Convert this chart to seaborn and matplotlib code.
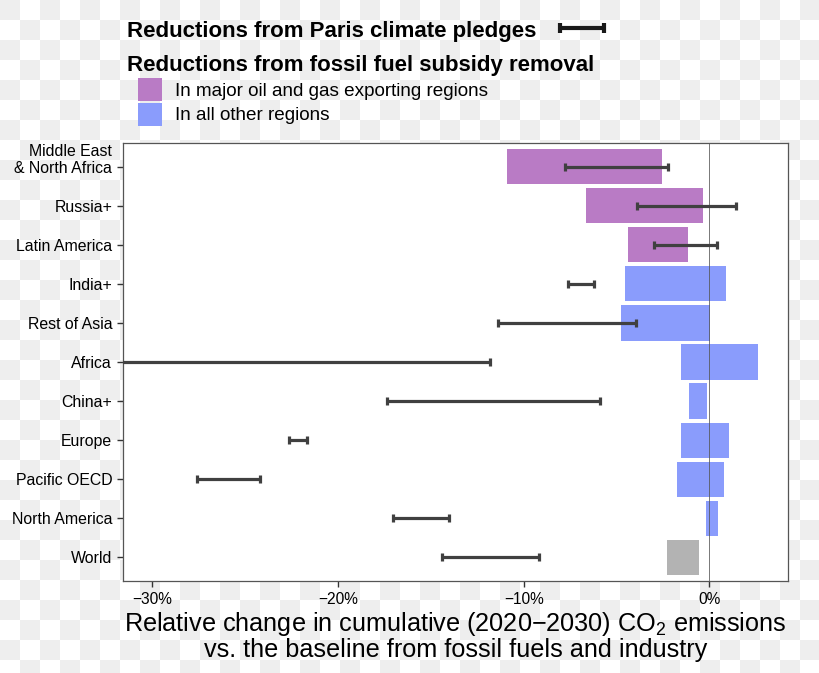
import numpy as np
import matplotlib
matplotlib.use("Agg")
import matplotlib.pyplot as plt
from matplotlib.patches import Rectangle
from matplotlib.lines import Line2D
from matplotlib.transforms import ScaledTranslation
import seaborn as sns

# ---------------- data ----------------
regions = ["Middle East\n& North Africa", "Russia+", "Latin America", "India+",
           "Rest of Asia", "Africa", "China+", "Europe", "Pacific OECD",
           "North America", "World"]
group = ["exporter", "exporter", "exporter", "other", "other", "other",
         "other", "other", "other", "other", "world"]
# fossil fuel subsidy removal: range (start, end) in %
subsidy_lo = [-10.9, -6.63, -4.38, -4.52, -4.76, -1.51, -1.11, -1.54, -1.72, -0.16, -2.28]
subsidy_hi = [-2.55, -0.32, -1.15, 0.88, 0.02, 2.62, -0.14, 1.08, 0.79, 0.48, -0.54]
# Paris pledges: range (low, high) in %
paris_lo = [-7.77, -3.91, -2.98, -7.63, -11.4, -33.0, -17.34, -22.66, -27.59, -17.03, -14.39]
paris_hi = [-2.24, 1.45, 0.41, -6.23, -3.97, -11.83, -5.87, -21.66, -24.22, -14.03, -9.19]
xticks = [-30, -20, -10, 0]
xticklabels = ["\u221230%", "\u221220%", "\u221210%", "0%"]

colors = {"exporter": "#b97bc5", "other": "#8a9cfc", "world": "#b3b3b3"}

# ---------------- style ----------------
sns.set_theme(style="ticks")
plt.rcParams["font.family"] = ["Liberation Sans", "DejaVu Sans"]
plt.rcParams["mathtext.fontset"] = "custom"
plt.rcParams["mathtext.rm"] = "Liberation Sans"
plt.rcParams["mathtext.it"] = "Liberation Sans"

W, H = 820, 673
fig = plt.figure(figsize=(W / 100, H / 100), dpi=100)
fig.patch.set_facecolor("white")

# checkerboard background
bg = fig.add_axes([0, 0, 1, 1], zorder=-10)
nx, ny = 41, 34
board = np.fromfunction(lambda j, i: ((i + j) % 2 == 0).astype(float), (ny, nx))
bg.imshow(board, cmap=matplotlib.colors.ListedColormap(["#ffffff", "#eeeeee"]),
          extent=(0, nx * 20, ny * 20, 0), interpolation="nearest", aspect="auto")
bg.set_xlim(0, W)
bg.set_ylim(H, 0)
bg.axis("off")

def fx(px):
    return px / W

def fy(py):
    return 1 - py / H

ax = fig.add_axes([fx(123.3), fy(580.7), fx(787.7) - fx(123.3), fy(143.3) - fy(580.7)])
ax.set_facecolor("white")

y = np.arange(len(regions))
lo = np.array(subsidy_lo)
hi = np.array(subsidy_hi)
ax.barh(y, hi - lo, left=lo, height=0.9,
        color=[colors[g] for g in group], linewidth=0, zorder=2)

ax.axvline(0, color="#555555", lw=0.7, alpha=0.8, zorder=3)

plo = np.array(paris_lo)
phi = np.array(paris_hi)
ax.errorbar((plo + phi) / 2, y, xerr=(phi - plo) / 2, fmt="none",
            ecolor="#404040", elinewidth=2.3, capsize=3.0, capthick=2.3, zorder=4)

ax.set_xlim(-31.57, 4.22)
ax.set_ylim(len(regions) - 0.4, -0.6)
ax.set_yticks(y)
ax.set_yticklabels(regions, fontsize=11.4, color="black", linespacing=1.2)
ax.set_xticks(xticks)
ax.set_xticklabels(xticklabels, fontsize=11.2, color="black")
ax.tick_params(axis="both", length=4, width=1, color="#333333", pad=4)
for s in ax.spines.values():
    s.set_visible(True)
    s.set_color("#555555")
    s.set_linewidth(0.9)

# shift the two-line label so that its last line sits at the tick
lab0 = ax.get_yticklabels()[0]
lab0.set_transform(lab0.get_transform() + ScaledTranslation(0, 9.5 / 100, fig.dpi_scale_trans))

ax.set_xlabel("Relative change in cumulative (2020\u22122030) CO$_2$ emissions\n"
              "vs. the baseline from fossil fuels and industry",
              fontsize=18.2, linespacing=1.0, labelpad=2, color="black")

# ---------------- legend ----------------
fig.text(fx(127), fy(31), "Reductions from Paris climate pledges", fontsize=16,
         fontweight="bold", ha="left", va="center", color="black")
fig.add_artist(Line2D([fx(560), fx(604)], [fy(28), fy(28)], color="#1a1a1a", lw=3,
                      transform=fig.transFigure, solid_capstyle="butt"))
for xc in (560, 604):
    fig.add_artist(Line2D([fx(xc), fx(xc)], [fy(23), fy(33)], color="#1a1a1a", lw=3,
                          transform=fig.transFigure, solid_capstyle="butt"))
fig.text(fx(127), fy(65), "Reductions from fossil fuel subsidy removal", fontsize=16,
         fontweight="bold", ha="left", va="center", color="black")
for py, key, label in [(89, "exporter", "In major oil and gas exporting regions"),
                       (114, "other", "In all other regions")]:
    fig.add_artist(Rectangle((fx(138), fy(py + 12)), fx(24), fy(py - 11) - fy(py + 12),
                             transform=fig.transFigure, color=colors[key], lw=0))
    fig.text(fx(175), fy(py + 2), label, fontsize=13.6, ha="left", va="center", color="black")

fig.savefig("out.png", dpi=100)
